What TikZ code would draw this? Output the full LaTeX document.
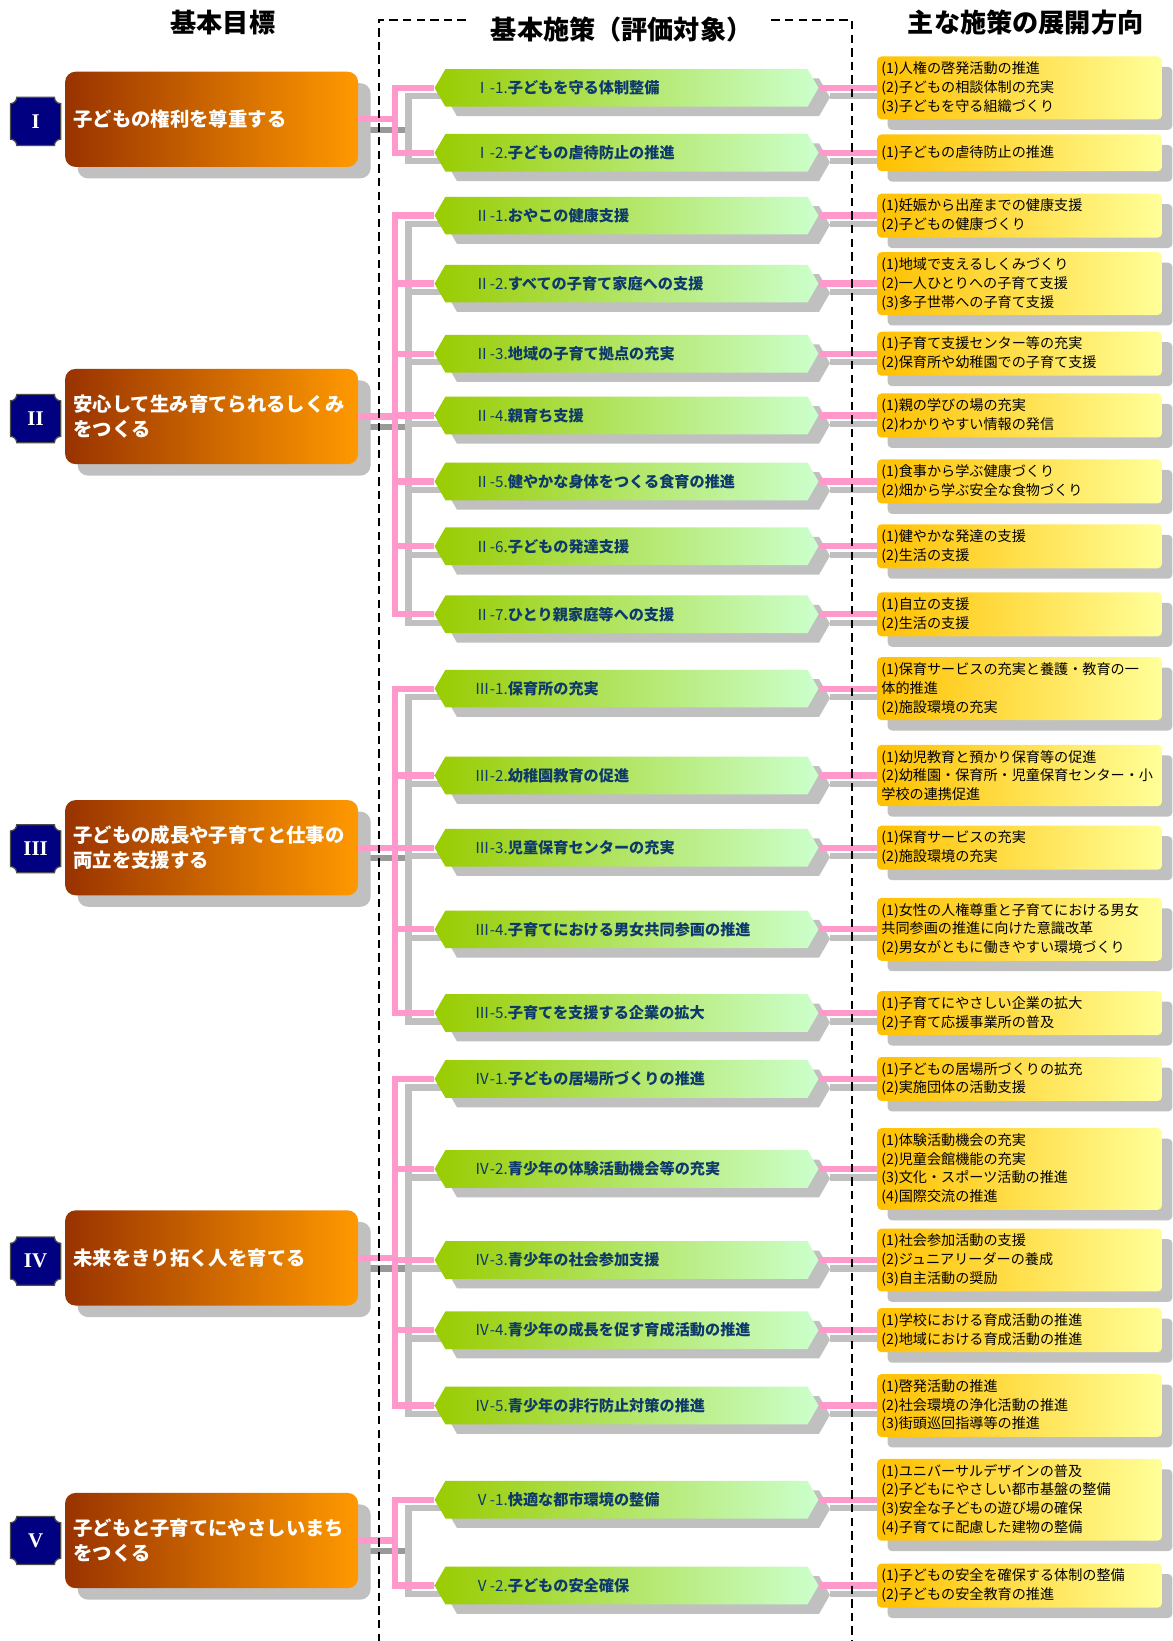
\documentclass[tikz,border=0pt]{standalone}
\usepackage{fontspec}
\setmainfont{Noto Sans CJK JP}
\newfontfamily\serifnum{Liberation Serif}
\usetikzlibrary{shapes.symbols,shadows,backgrounds}

\definecolor{goalL}{HTML}{993300}
\definecolor{goalR}{HTML}{FF9900}
\definecolor{stepL}{HTML}{99CC00}
\definecolor{stepR}{HTML}{CCFFCC}
\definecolor{stepInk}{HTML}{0D3A6B}
\definecolor{noteL}{HTML}{FFC000}
\definecolor{noteR}{HTML}{FFFF99}
\definecolor{linkpink}{HTML}{FF99CC}
\definecolor{shadowgray}{HTML}{C0C0C0}
\definecolor{stubgray}{HTML}{999999}
\definecolor{navy}{HTML}{000080}

\tikzset{
  heading/.style={font=\fontsize{25pt}{28pt}\selectfont\bfseries},
  goalbox/.style={rectangle, rounded corners=10pt, left color=goalL, right color=goalR,
    minimum height=91pt, text width=264pt, inner xsep=8pt, align=left, text=white,
    font=\fontsize{18.5pt}{24pt}\selectfont\bfseries,
    general shadow={fill=shadowgray, shadow xshift=12pt, shadow yshift=-11pt}},
  stepbox/.style={signal, signal to=west and east, signal pointer angle=120,
    left color=stepL, right color=stepR, minimum height=36pt, inner ysep=0pt,
    inner xsep=28pt, text width=290pt, align=left, text=stepInk,
    font=\fontsize{14.5pt}{16pt}\selectfont\bfseries,
    general shadow={fill=shadowgray, shadow xshift=11pt, shadow yshift=-9pt}},
  notebox/.style={rectangle, rounded corners=4pt, left color=noteL, right color=noteR,
    text width=264pt, inner xsep=4pt, inner ysep=5pt, minimum height=35pt, align=left,
    font=\fontsize{13.5pt}{18pt}\selectfont,
    general shadow={fill=shadowgray, shadow xshift=10pt, shadow yshift=-10pt}},
  badge/.style={text=white, font=\serifnum\fontsize{20pt}{20pt}\selectfont\bfseries},
  plate/.style={fill=navy, draw=black!70, line width=1.2pt},
  linkline/.style={draw=linkpink, line width=6pt},
  shadeline/.style={draw=shadowgray, line width=6pt},
  stubline/.style={draw=stubgray, line width=6pt},
  frameline/.style={draw=black, line width=1.8pt, dash pattern=on 8pt off 5pt},
}

% navy plate with hollow corners behind the numerals
\newcommand\plate[2]{%
  \filldraw[plate, shift={(#1,#2)}] (-18,-23) -- (18,-23)
    .. controls (18,-19.7) and (20.7,-17) .. (24,-17) -- (24,17)
    .. controls (20.7,17) and (18,19.7) .. (18,23) -- (-18,23)
    .. controls (-18,19.7) and (-20.7,17) .. (-24,17) -- (-24,-17)
    .. controls (-20.7,-17) and (-18,-19.7) .. (-18,-23) -- cycle;}

\begin{document}
\begin{tikzpicture}[x=1pt, y=-1pt]
  \useasboundingbox (0,0) rectangle (1120,1568);

  % Column headings
  \node[heading] (h1) at (213,22) {基本目標};
  \node[heading] (h2) at (594,28) {基本施策（評価対象）};
  \node[heading] (h3) at (980,22) {主な施策の展開方向};

  % Basic goals
  \plate{34}{116} \node[badge] (b1) at (34,116) {I};
  \node[goalbox, anchor=west] (g1) at (62,114) {子どもの権利を尊重する};
  \plate{34}{400} \node[badge] (b2) at (34,400) {II};
  \node[goalbox, anchor=west] (g2) at (62,398) {安心して生み育てられるしくみ\\をつくる};
  \plate{34}{811} \node[badge] (b3) at (34,811) {III};
  \node[goalbox, anchor=west] (g3) at (62,810) {子どもの成長や子育てと仕事の\\両立を支援する};
  \plate{34}{1205} \node[badge] (b4) at (34,1205) {IV};
  \node[goalbox, anchor=west] (g4) at (62,1202) {未来をきり拓く人を育てる};
  \plate{34}{1472} \node[badge] (b5) at (34,1472) {V};
  \node[goalbox, anchor=west] (g5) at (62,1472) {子どもと子育てにやさしいまち\\をつくる};

  % Basic measures
  \node[stepbox, anchor=west] (s11) at (415,84) {{\mdseries Ⅰ-1.}子どもを守る体制整備};
  \node[stepbox, anchor=west] (s12) at (415,146) {{\mdseries Ⅰ-2.}子どもの虐待防止の推進};
  \node[stepbox, anchor=west] (s21) at (415,206) {{\mdseries Ⅱ-1.}おやこの健康支援};
  \node[stepbox, anchor=west] (s22) at (415,271) {{\mdseries Ⅱ-2.}すべての子育て家庭への支援};
  \node[stepbox, anchor=west] (s23) at (415,338) {{\mdseries Ⅱ-3.}地域の子育て拠点の充実};
  \node[stepbox, anchor=west] (s24) at (415,397) {{\mdseries Ⅱ-4.}親育ち支援};
  \node[stepbox, anchor=west] (s25) at (415,460) {{\mdseries Ⅱ-5.}健やかな身体をつくる食育の推進};
  \node[stepbox, anchor=west] (s26) at (415,522) {{\mdseries Ⅱ-6.}子どもの発達支援};
  \node[stepbox, anchor=west] (s27) at (415,587) {{\mdseries Ⅱ-7.}ひとり親家庭等への支援};
  \node[stepbox, anchor=west] (s31) at (415,658) {{\mdseries Ⅲ-1.}保育所の充実};
  \node[stepbox, anchor=west] (s32) at (415,741) {{\mdseries Ⅲ-2.}幼稚園教育の促進};
  \node[stepbox, anchor=west] (s33) at (415,810) {{\mdseries Ⅲ-3.}児童保育センターの充実};
  \node[stepbox, anchor=west] (s34) at (415,888) {{\mdseries Ⅲ-4.}子育てにおける男女共同参画の推進};
  \node[stepbox, anchor=west] (s35) at (415,968) {{\mdseries Ⅲ-5.}子育てを支援する企業の拡大};
  \node[stepbox, anchor=west] (s41) at (415,1031) {{\mdseries Ⅳ-1.}子どもの居場所づくりの推進};
  \node[stepbox, anchor=west] (s42) at (415,1117) {{\mdseries Ⅳ-2.}青少年の体験活動機会等の充実};
  \node[stepbox, anchor=west] (s43) at (415,1204) {{\mdseries Ⅳ-3.}青少年の社会参加支援};
  \node[stepbox, anchor=west] (s44) at (415,1271) {{\mdseries Ⅳ-4.}青少年の成長を促す育成活動の推進};
  \node[stepbox, anchor=west] (s45) at (415,1343) {{\mdseries Ⅳ-5.}青少年の非行防止対策の推進};
  \node[stepbox, anchor=west] (s51) at (415,1433) {{\mdseries Ⅴ-1.}快適な都市環境の整備};
  \node[stepbox, anchor=west] (s52) at (415,1515) {{\mdseries Ⅴ-2.}子どもの安全確保};

  % Directions of the main measures
  \node[notebox, anchor=west] (m11) at (838,84) {(1)人権の啓発活動の推進\\(2)子どもの相談体制の充実\\(3)子どもを守る組織づくり};
  \node[notebox, anchor=west] (m12) at (838,146) {(1)子どもの虐待防止の推進};
  \node[notebox, anchor=west] (m21) at (838,206) {(1)妊娠から出産までの健康支援\\(2)子どもの健康づくり};
  \node[notebox, anchor=west] (m22) at (838,271) {(1)地域で支えるしくみづくり\\(2)一人ひとりへの子育て支援\\(3)多子世帯への子育て支援};
  \node[notebox, anchor=west] (m23) at (838,338) {(1)子育て支援センター等の充実\\(2)保育所や幼稚園での子育て支援};
  \node[notebox, anchor=west] (m24) at (838,397) {(1)親の学びの場の充実\\(2)わかりやすい情報の発信};
  \node[notebox, anchor=west] (m25) at (838,460) {(1)食事から学ぶ健康づくり\\(2)畑から学ぶ安全な食物づくり};
  \node[notebox, anchor=west] (m26) at (838,522) {(1)健やかな発達の支援\\(2)生活の支援};
  \node[notebox, anchor=west] (m27) at (838,587) {(1)自立の支援\\(2)生活の支援};
  \node[notebox, anchor=west] (m31) at (838,658) {(1)保育サービスの充実と養護・教育の一\\体的推進\\(2)施設環境の充実};
  \node[notebox, anchor=west] (m32) at (838,741) {(1)幼児教育と預かり保育等の促進\\(2)幼稚園・保育所・児童保育センター・小\\学校の連携促進};
  \node[notebox, anchor=west] (m33) at (838,810) {(1)保育サービスの充実\\(2)施設環境の充実};
  \node[notebox, anchor=west] (m34) at (838,888) {(1)女性の人権尊重と子育てにおける男女\\共同参画の推進に向けた意識改革\\(2)男女がともに働きやすい環境づくり};
  \node[notebox, anchor=west] (m35) at (838,968) {(1)子育てにやさしい企業の拡大\\(2)子育て応援事業所の普及};
  \node[notebox, anchor=west] (m41) at (838,1031) {(1)子どもの居場所づくりの拡充\\(2)実施団体の活動支援};
  \node[notebox, anchor=west] (m42) at (838,1117) {(1)体験活動機会の充実\\(2)児童会館機能の充実\\(3)文化・スポーツ活動の推進\\(4)国際交流の推進};
  \node[notebox, anchor=west] (m43) at (838,1204) {(1)社会参加活動の支援\\(2)ジュニアリーダーの養成\\(3)自主活動の奨励};
  \node[notebox, anchor=west] (m44) at (838,1271) {(1)学校における育成活動の推進\\(2)地域における育成活動の推進};
  \node[notebox, anchor=west] (m45) at (838,1343) {(1)啓発活動の推進\\(2)社会環境の浄化活動の推進\\(3)街頭巡回指導等の推進};
  \node[notebox, anchor=west] (m51) at (838,1433) {(1)ユニバーサルデザインの普及\\(2)子どもにやさしい都市基盤の整備\\(3)安全な子どもの遊び場の確保\\(4)子育てに配慮した建物の整備};
  \node[notebox, anchor=west] (m52) at (838,1515) {(1)子どもの安全を確保する体制の整備\\(2)子どもの安全教育の推進};

  % Gray shadow lines under everything
  \begin{scope}[on background layer]
    \fill[white] (0,0) rectangle (1120,1568);
    \foreach \g/\steps in {1/{11,12}, 2/{21,22,23,24,25,26,27}, 3/{31,32,33,34,35},
                           4/{41,42,43,44,45}, 5/{51,52}} {
      \coordinate (gt\g) at ([shift={(48pt,-10pt)}]g\g.east);
      \draw[stubline] ([yshift=-10pt]g\g.east) -- (gt\g);
      \foreach \k in \steps
        \draw[shadeline] ([shift={(20pt,-8pt)}]s\k.west) -| (gt\g);
    }
    \foreach \k in {11,12,21,22,23,24,25,26,27,31,32,33,34,35,41,42,43,44,45,51,52}
      \draw[shadeline] ([shift={(11pt,-8pt)}]s\k.east) -- ([yshift=-8pt]m\k.west);
  \end{scope}

  % Pink tree from each goal to its measures
  \foreach \g/\steps in {1/{11,12}, 2/{21,22,23,24,25,26,27}, 3/{31,32,33,34,35},
                         4/{41,42,43,44,45}, 5/{51,52}} {
    \coordinate (pt\g) at ([xshift=35pt]g\g.east);
    \draw[linkline] (g\g.east) -- (pt\g);
    \foreach \k in \steps
      \draw[linkline] (s\k.west) -| (pt\g);
  }

  % Pink links from measures to directions
  \foreach \k in {11,12,21,22,23,24,25,26,27,31,32,33,34,35,41,42,43,44,45,51,52}
    \draw[linkline] (s\k.east) -- (m\k.west);

  % Dashed frame round the evaluated column
  \draw[frameline] (445,19) -| (362,1568);
  \draw[frameline] (737,19) -| (814,1568);
\end{tikzpicture}
\end{document}
